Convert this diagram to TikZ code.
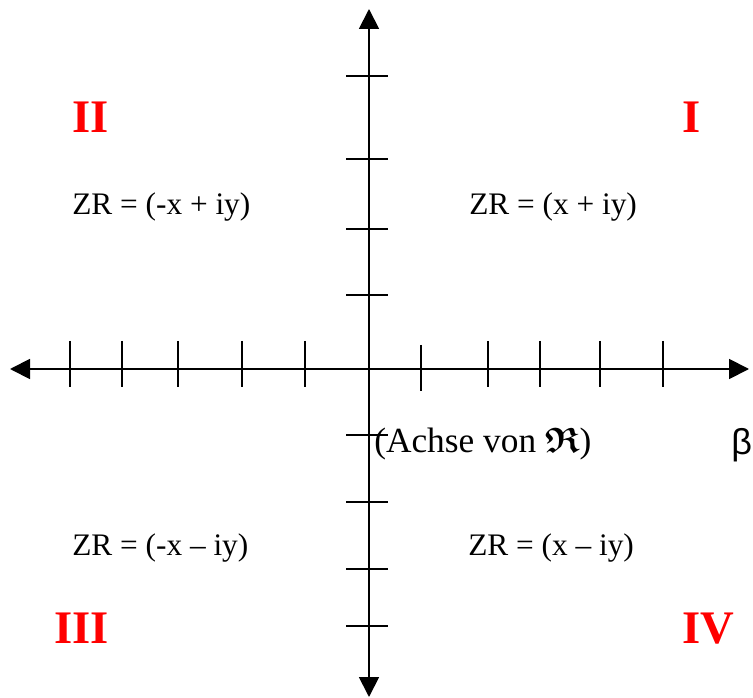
\documentclass[tikz,border=0pt]{standalone}
\usepackage{amsmath,amssymb}
\usepackage{fontspec}
\setmainfont{Liberation Serif}
\newfontfamily\betafont{Liberation Sans}
\usetikzlibrary{arrows.meta}

\begin{document}
\begin{tikzpicture}[x=0.75pt,y=-0.75pt,
 ax/.style={{Triangle[length=15pt,width=15pt]}-{Triangle[length=15pt,width=15pt]},line width=1.4pt},
 tk/.style={line width=1.3pt},
 zr/.style={font=\fontsize{23.5}{28}\selectfont,inner sep=0pt,anchor=base west},
 quad/.style={text=red,font=\fontsize{35}{40}\selectfont\bfseries,inner sep=0pt,anchor=base west}]
\useasboundingbox (0,0) rectangle (753,698);
\coordinate (w) at (10,369);
\coordinate (e) at (749,369);
\coordinate (n) at (369,9);
\coordinate (s) at (369,697);
\draw[ax] (w)--(e);
\draw[ax] (n)--(s);
% ticks on both axes
\foreach \tx in {70,122,178,242,305,488,540,600,663} \draw[tk] (\tx,341)--(\tx,387);
\draw[tk] (421,345)--(421,391);
\foreach \ty in {76,159,229,295,435,502,569,626} \draw[tk] (346,\ty)--(388,\ty);
% quadrants
\node[quad] (qII) at (72,133) {II};
\node[quad] (qI) at (682,133) {I};
\node[quad] (qIII) at (54,643) {III};
\node[quad] (qIV) at (682,643) {IV};
\node[zr] (zrII) at (72,215) {ZR = (-x + iy)};
\node[zr] (zrI) at (469,215) {ZR = (x + iy)};
\node[zr] (zrIII) at (72,555) {ZR = (-x -- iy)};
\node[zr] (zrIV) at (468,555) {ZR = (x -- iy)};
\node[zr,font=\fontsize{26.5}{31}\selectfont] (achse) at (374,452) {(Achse von $\boldsymbol{\mathfrak{R}}$)};
\node[zr,font=\fontsize{27}{32}\betafont] (beta) at (731,454) {β};
\end{tikzpicture}
\end{document}
